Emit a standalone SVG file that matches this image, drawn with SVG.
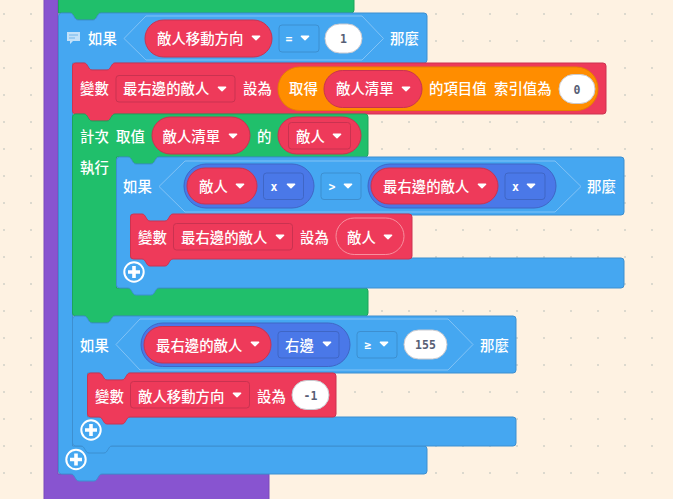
<svg xmlns="http://www.w3.org/2000/svg" width="673" height="499" viewBox="0 0 673 499">
<style>
.blue{fill:#45a7f1;stroke:#3d8fd0;stroke-width:1;stroke-linejoin:round}
.red{fill:#ee3a5a;stroke:#cc3350;stroke-width:1;stroke-linejoin:round}
.green{fill:#20bf6b;stroke:#1ca35c;stroke-width:1;stroke-linejoin:round}
.orange{fill:#ff8d00;stroke:#e58000;stroke-width:1}
.purple{fill:#8854d0;stroke:#7a4bbb;stroke-width:1}
.hex{fill:#45a7f1;stroke:#82c3f6;stroke-width:1}
.bp{fill:#4a78e8;stroke:#3f66c5;stroke-width:1}
.bd{fill:#45a7f1;stroke:#3d8fd0;stroke-width:1}
.ud{fill:#4a78e8;stroke:#3f66c5;stroke-width:1}
.rd{fill:#ee3a5a;stroke:#c93250;stroke-width:1}
.rp{fill:#ee3a5a;stroke:#c93250;stroke-width:1}
.sh{fill:#ee3a5a;stroke:#f7909f;stroke-width:1}
.wp{fill:#fff;stroke:#c9c9cf;stroke-width:1}
.t{font-family:"Noto Sans CJK TC","Noto Sans CJK SC",sans-serif;font-size:14.4px;font-weight:500;fill:#fff}
.m{font-family:"DejaVu Sans Mono","Liberation Mono",monospace;font-size:11.5px;font-weight:700;fill:#fff;text-anchor:middle}
.v{font-family:"DejaVu Sans Mono","Liberation Mono",monospace;font-size:11.5px;font-weight:700;fill:#575e75;text-anchor:middle}
.c{fill:#fff;stroke:#fff;stroke-width:1.5;stroke-linejoin:round}
.pc{fill:none;stroke:#fff;stroke-width:2}
.pp{fill:none;stroke:#fff;stroke-width:3.6}
</style>
<defs>
<pattern id="grid" x="3" y="13" width="27" height="27" patternUnits="userSpaceOnUse"><rect width="2" height="2" fill="#dcd9ce"/></pattern>
<path id="car" d="M-3.6 -1.800 H3.600 L0 1.800 Z" class="c"/>
<g id="plus"><circle r="9.700" class="pc"/><path d="M-6 0 H6 M0 -6 V6" class="pp"/></g>
</defs>
<rect width="673" height="499" fill="#fef2e2"/>
<rect width="673" height="499" fill="url(#grid)"/>
<g id="purple-hat"><path class="purple" d="M44 -2 H58 V474 H269 V500 H44 Z"/></g>
<g id="connectors"></g>
<g id="block-top-green"><path class="green" d="M58.500 -2 H354 V10 Q354 13 351 13 H101 c-4 0 -4 7 -8 7 h-15 c-4 0 -4 -7 -8 -7 H58.500 Z"/></g>
<g id="if-outer">
<path class="blue" d="M58.500 16 Q58.500 13 61.500 13 H70 c4 0 4 7 8 7 h15 c4 0 4 -7 8 -7 H424 Q427 13 427 16 V60 Q427 63 424 63 H115 c-4 0 -4 7 -8 7 h-15 c-4 0 -4 -7 -8 -7 H72.500 V446 H424 Q427 446 427 449 V471 Q427 474 424 474 H102 c-4 0 -4 7 -8 7 h-15 c-4 0 -4 -7 -8 -7 H61.500 Q58.500 474 58.500 471 Z"/>
<path d="M67 32 H80 V41 H73 L70 44 V41 H67 Z" fill="#c3e1f9"/><path d="M69 35 H78 M69 38 H75" stroke="#6fb5ec" stroke-width="1"/>
<text class="t" x="88" y="44">如果</text>
<path class="hex" d="M124 38.500 L146 16 H362 L383.500 38.500 L362 60 H146 Z"/>
<rect class="rp" x="145" y="20" width="127" height="37" rx="18.500"/>
<text class="t" x="157" y="44">敵人移動方向</text><use href="#car" x="256" y="38"/>
<rect class="bd" x="279" y="25" width="40" height="27" rx="3"/>
<text class="m" x="289" y="43">=</text><use href="#car" x="305" y="38"/>
<rect class="wp" x="325" y="24" width="37" height="29" rx="14.500"/>
<text class="v" x="343.500" y="43">1</text>
<text class="t" x="390" y="44">那麼</text>
</g>
<g id="set-rightmost">
<path class="red" d="M72.500 66 Q72.500 63 75.500 63 H84 c4 0 4 7 8 7 h15 c4 0 4 -7 8 -7 H603 Q606 63 606 66 V111 Q606 114 603 114 H115 c-4 0 -4 7 -8 7 h-15 c-4 0 -4 -7 -8 -7 H75.500 Q72.500 114 72.500 111 Z"/>
<text class="t" x="80" y="94">變數</text>
<rect class="rd" x="116" y="75.500" width="119" height="26.500" rx="3"/>
<text class="t" x="123" y="94">最右邊的敵人</text><use href="#car" x="222" y="89"/>
<text class="t" x="243" y="94">設為</text>
<rect class="orange" x="278" y="67" width="320" height="43.500" rx="21.700"/>
<text class="t" x="289" y="94">取得</text>
<rect class="rp" x="324" y="70.500" width="98" height="37" rx="18.500"/>
<text class="t" x="336" y="94">敵人清單</text><use href="#car" x="406" y="89"/>
<text class="t" x="429" y="94">的項目值</text>
<text class="t" x="494" y="94">索引值為</text>
<rect class="wp" x="559" y="74.500" width="36" height="29" rx="14.500"/>
<text class="v" x="577" y="93.500">0</text>
</g>
<g id="for-each">
<path class="green" d="M72.500 117 Q72.500 114 75.500 114 H84 c4 0 4 7 8 7 h15 c4 0 4 -7 8 -7 H365 Q368 114 368 117 V154 Q368 157 365 157 H159 c-4 0 -4 7 -8 7 h-15 c-4 0 -4 -7 -8 -7 H116.500 V288 H365 Q368 288 368 291 V313 Q368 316 365 316 H115 c-4 0 -4 7 -8 7 h-15 c-4 0 -4 -7 -8 -7 H75.500 Q72.500 316 72.500 313 Z"/>
<text class="t" x="80" y="142">計次</text>
<text class="t" x="116" y="142">取值</text>
<rect class="rp" x="152" y="117" width="98" height="37" rx="18.500"/>
<text class="t" x="162.500" y="142">敵人清單</text><use href="#car" x="233" y="136"/>
<text class="t" x="257" y="142">的</text>
<rect class="rp" x="278" y="117" width="83" height="37" rx="18.500"/>
<rect class="rd" x="288.500" y="122.500" width="62" height="26.500" rx="3"/>
<text class="t" x="296" y="142">敵人</text><use href="#car" x="337" y="136"/>
<text class="t" x="80" y="173">執行</text>
</g>
<g id="if-inner">
<path class="blue" d="M116.500 160 Q116.500 157 119.500 157 H128 c4 0 4 7 8 7 h15 c4 0 4 -7 8 -7 H621 Q624 157 624 160 V212 Q624 215 621 215 H173 c-4 0 -4 7 -8 7 h-15 c-4 0 -4 -7 -8 -7 H130.500 V258 H621 Q624 258 624 261 V285 Q624 288 621 288 H159 c-4 0 -4 7 -8 7 h-15 c-4 0 -4 -7 -8 -7 H119.500 Q116.500 288 116.500 285 Z"/>
<text class="t" x="123" y="192">如果</text>
<path class="hex" d="M159 186.500 L185 161 H555 L581 186.500 L555 212 H185 Z"/>
<rect class="bp" x="184" y="164" width="130" height="44" rx="22"/>
<rect class="rp" x="187" y="168" width="70" height="36" rx="18"/>
<text class="t" x="199" y="192">敵人</text><use href="#car" x="240" y="186"/>
<rect class="ud" x="263.500" y="173" width="40" height="26.500" rx="3"/>
<text class="m" x="274" y="191">x</text><use href="#car" x="291" y="186"/>
<rect class="bd" x="321" y="173" width="40" height="26.500" rx="3"/>
<text class="m" x="332" y="191">&gt;</text><use href="#car" x="348" y="186"/>
<rect class="bp" x="368" y="164" width="188" height="44" rx="22"/>
<rect class="rp" x="371" y="168" width="127" height="36" rx="18"/>
<text class="t" x="383" y="192">最右邊的敵人</text><use href="#car" x="482" y="186"/>
<rect class="ud" x="505" y="173" width="40" height="26.500" rx="3"/>
<text class="m" x="515.500" y="191">x</text><use href="#car" x="531" y="186"/>
<text class="t" x="587" y="192">那麼</text>
<use href="#plus" x="134" y="272"/>
</g>
<g id="set-inner">
<path class="red" d="M130.500 217 Q130.500 214 133.500 214 H142 c4 0 4 7 8 7 h15 c4 0 4 -7 8 -7 H409 Q412 214 412 217 V256 Q412 259 409 259 H173 c-4 0 -4 7 -8 7 h-15 c-4 0 -4 -7 -8 -7 H133.500 Q130.500 259 130.500 256 Z"/>
<text class="t" x="138" y="243">變數</text>
<rect class="rd" x="173.500" y="223.500" width="119" height="26.500" rx="3"/>
<text class="t" x="181" y="243">最右邊的敵人</text><use href="#car" x="280" y="237"/>
<text class="t" x="300" y="243">設為</text>
<rect class="sh" x="336" y="218" width="68" height="36.500" rx="18.200"/>
<text class="t" x="347" y="243">敵人</text><use href="#car" x="388" y="237"/>
</g>
<g id="if-second">
<path class="blue" d="M72.500 319 Q72.500 316 75.500 316 H84 c4 0 4 7 8 7 h15 c4 0 4 -7 8 -7 H513 Q516 316 516 319 V370 Q516 373 513 373 H130 c-4 0 -4 7 -8 7 h-15 c-4 0 -4 -7 -8 -7 H87.500 V417 H513 Q516 417 516 420 V443 Q516 446 513 446 H112 c-4 0 -4 7 -8 7 h-15 c-4 0 -4 -7 -8 -7 H75.500 Q72.500 446 72.500 443 Z"/>
<text class="t" x="80" y="351">如果</text>
<path class="hex" d="M116 344.500 L140 319 H448 L473 344.500 L448 370 H140 Z"/>
<rect class="bp" x="141" y="323" width="209" height="43.500" rx="21.700"/>
<rect class="rp" x="144" y="326.500" width="127" height="36.500" rx="18.200"/>
<text class="t" x="156" y="351">最右邊的敵人</text><use href="#car" x="255" y="344"/>
<rect class="ud" x="278" y="331.500" width="61" height="26.500" rx="3"/>
<text class="t" x="285" y="351">右邊</text><use href="#car" x="327" y="344"/>
<rect class="bd" x="357" y="331.500" width="40" height="26.500" rx="3"/>
<text class="m" x="368" y="349">≥</text><use href="#car" x="384" y="344"/>
<rect class="wp" x="404" y="330" width="43" height="29" rx="14.500"/>
<text class="v" x="425.500" y="349">155</text>
<text class="t" x="480" y="351">那麼</text>
<use href="#plus" x="91" y="430"/>
</g>
<g id="set-direction">
<path class="red" d="M87.500 376 Q87.500 373 90.500 373 H99 c4 0 4 7 8 7 h15 c4 0 4 -7 8 -7 H333 Q336 373 336 376 V414 Q336 417 333 417 H130 c-4 0 -4 7 -8 7 h-15 c-4 0 -4 -7 -8 -7 H90.500 Q87.500 417 87.500 414 Z"/>
<text class="t" x="95" y="402">變數</text>
<rect class="rd" x="130.500" y="381.500" width="119" height="26.500" rx="3"/>
<text class="t" x="138" y="402">敵人移動方向</text><use href="#car" x="237" y="395"/>
<text class="t" x="257" y="402">設為</text>
<rect class="wp" x="292" y="380.500" width="37" height="29" rx="14.500"/>
<text class="v" x="310.500" y="399.500">-1</text>
</g>
<g id="add-outer"><use href="#plus" x="76" y="459.500"/></g>
</svg>
